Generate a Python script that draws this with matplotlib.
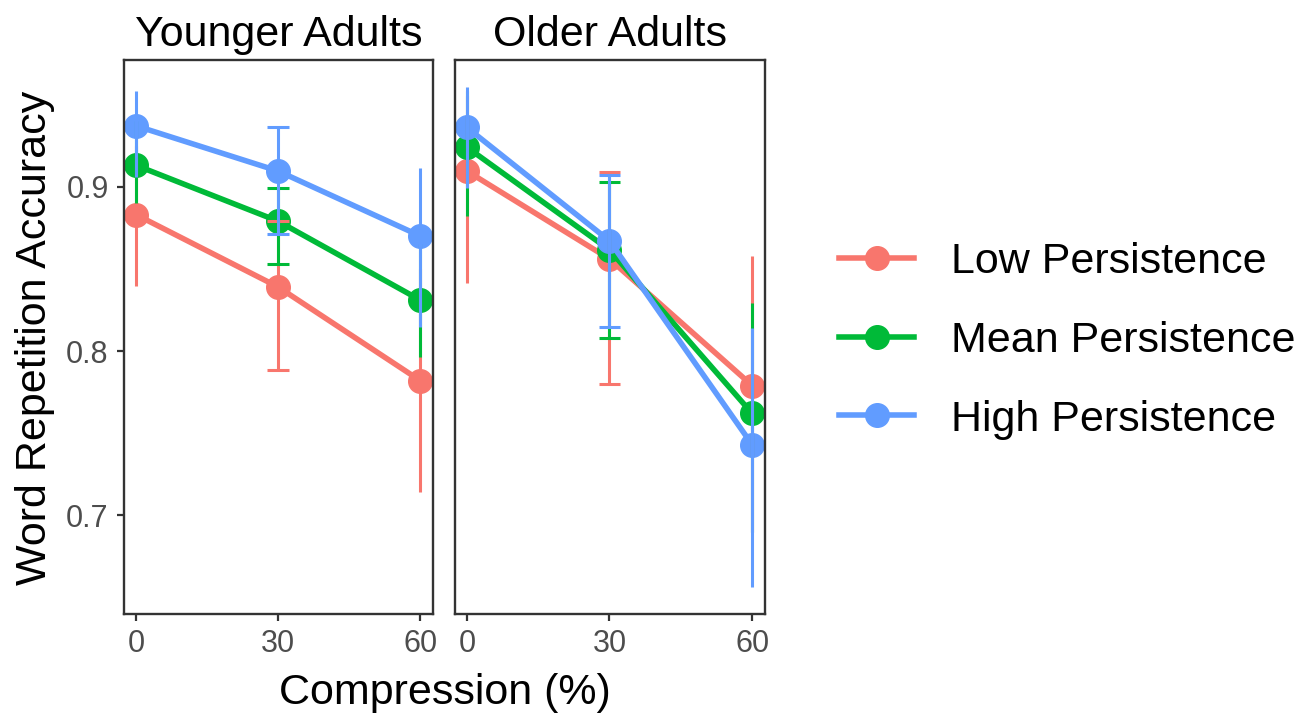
import numpy as np
import matplotlib.pyplot as plt
from matplotlib.lines import Line2D

plt.rcParams['font.family'] = ['Liberation Sans', 'DejaVu Sans']

# data
compression = [0, 30, 60]
groups = ["Low Persistence", "Mean Persistence", "High Persistence"]
colors = ["#F8766D", "#00BA38", "#619CFF"]

young_mean = {
    "Low Persistence": [0.883, 0.839, 0.782],
    "Mean Persistence": [0.913, 0.879, 0.831],
    "High Persistence": [0.937, 0.9095, 0.870],
}
young_lo = {
    "Low Persistence": [0.8394, 0.7883, 0.7143],
    "Mean Persistence": [0.890, 0.8528, 0.7961],
    "High Persistence": [0.9058, 0.8712, 0.8149],
}
young_hi = {
    "Low Persistence": [0.925, 0.8788, 0.850],
    "Mean Persistence": [0.940, 0.8994, 0.865],
    "High Persistence": [0.9584, 0.9361, 0.9113],
}

old_mean = {
    "Low Persistence": [0.9095, 0.856, 0.779],
    "Mean Persistence": [0.924, 0.8615, 0.762],
    "High Persistence": [0.936, 0.867, 0.743],
}
old_lo = {
    "Low Persistence": [0.8416, 0.7797, 0.690],
    "Mean Persistence": [0.882, 0.8078, 0.690],
    "High Persistence": [0.8994, 0.8143, 0.6563],
}
old_hi = {
    "Low Persistence": [0.955, 0.9091, 0.858],
    "Mean Persistence": [0.958, 0.9026, 0.829],
    "High Persistence": [0.9606, 0.9069, 0.8139],
}

panels = [
    ("Younger Adults", young_mean, young_lo, young_hi),
    ("Older Adults", old_mean, old_lo, old_hi),
]

fig = plt.figure(figsize=(13.01, 7.19), dpi=100)
ax1 = fig.add_axes([0.0953, 0.1460, 0.2375, 0.7705])
ax2 = fig.add_axes([0.3497, 0.1460, 0.2383, 0.7705])

for ax, (title, mean, lo, hi) in zip([ax1, ax2], panels):
    # lines + points
    for g, c in zip(groups, colors):
        ax.plot(compression, mean[g], color=c, lw=4, marker='o',
                markersize=17, solid_capstyle='butt', zorder=2)
    # error bars on top, caps only on the middle point
    for g, c in zip(groups, colors):
        ax.vlines(compression, lo[g], hi[g], color=c, lw=2.2, zorder=3)
        ax.hlines([lo[g][1], hi[g][1]], compression[1] - 2.3, compression[1] + 2.3,
                  color=c, lw=2.2, zorder=3)

    ax.set_xlim(-2.5, 62.7)
    ax.set_ylim(0.640, 0.977)
    ax.set_xticks(compression)
    ax.set_yticks([0.7, 0.8, 0.9])
    ax.set_title(title, fontsize=31, pad=10)
    for s in ax.spines.values():
        s.set_color('#333333')
        s.set_linewidth(1.7)
    ax.tick_params(colors='#333333', labelcolor='#4D4D4D', labelsize=22,
                   length=5, width=1.6, pad=6)

ax2.tick_params(axis='y', left=False, labelleft=False)

fig.text(0.342, 0.036, "Compression (%)", fontsize=31, ha='center', va='center')
fig.text(0.027, 0.53, "Word Repetition Accuracy", fontsize=31, ha='center',
         va='center', rotation=90)

handles = [Line2D([], [], color=c, lw=4, marker='o', markersize=17)
           for c in colors]
fig.legend(handles, groups, loc='center left', bbox_to_anchor=(0.615, 0.526),
           frameon=False, fontsize=31, handlelength=1.75, handletextpad=0.85,
           labelspacing=0.9)

plt.savefig("out.png", dpi=100)
